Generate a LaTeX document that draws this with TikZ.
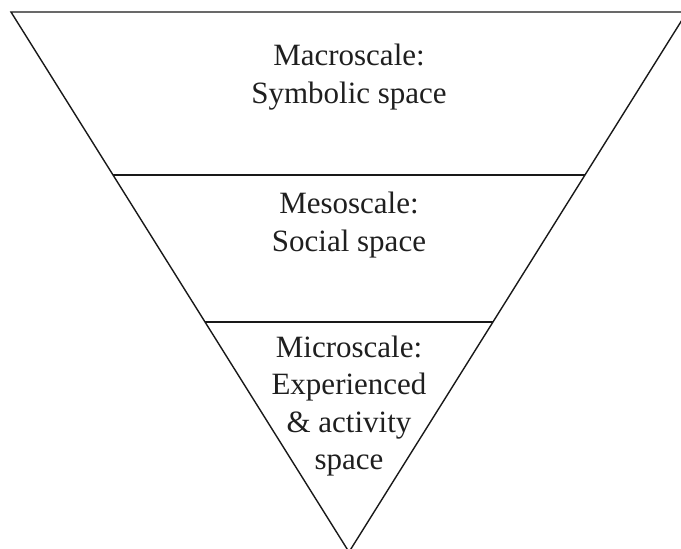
\documentclass[tikz,border=0pt]{standalone}
\usepackage{fontspec}
\setmainfont{Liberation Serif}
\begin{document}
\begin{tikzpicture}[x=1pt,y=-1pt,
  edge/.style={draw=black!90,line width=1.4pt,line join=miter},
  label/.style={align=center,font=\fontsize{31}{37.5}\selectfont,text=black!88,inner sep=0pt}]
\useasboundingbox (0,0) rectangle (681,549);
\clip (0,0) rectangle (681,549);
% outer inverted triangle
\coordinate (tl) at (11,12);
\coordinate (tr) at (687,12);
\coordinate (apex) at (349,552);
% boundaries between the three scales
\coordinate (l1) at (113,175);
\coordinate (r1) at (585,175);
\coordinate (l2) at (205,322);
\coordinate (r2) at (493,322);
\draw[edge] (tl) -- (tr) -- (apex) -- cycle;
\draw[edge] (l1) -- (r1);
\draw[edge] (l2) -- (r2);
% scale labels
\node[label] (macro) at (349,77) {Macroscale:\\Symbolic space};
\node[label] (meso) at (349,225) {Mesoscale:\\Social space};
\node[label] (micro) at (349,406) {Microscale:\\Experienced\\\&~activity\\space};
\end{tikzpicture}
\end{document}
